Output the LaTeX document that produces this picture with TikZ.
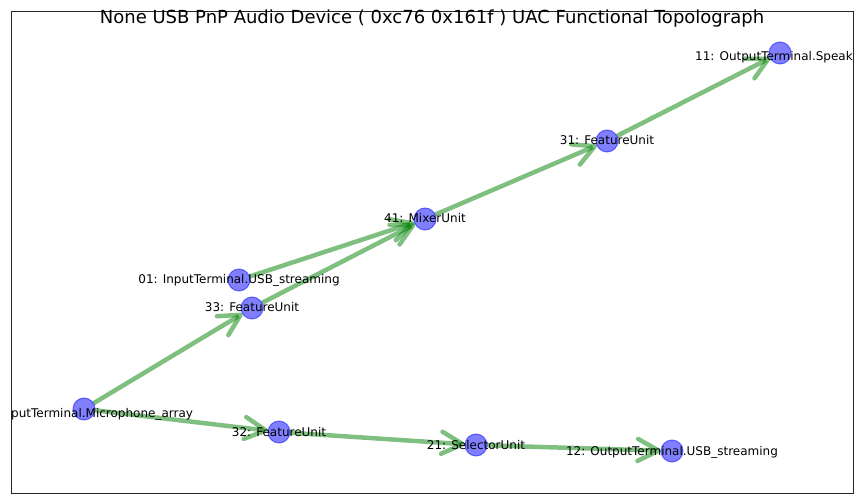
\documentclass[tikz,border=0pt]{standalone}
\usepackage{fontspec}
\setmainfont{DejaVu Sans}
\usetikzlibrary{arrows.meta,backgrounds}
\definecolor{edgegreen}{RGB}{0,128,0}
\definecolor{vertblue}{RGB}{0,0,255}
\begin{document}
\begin{tikzpicture}[x=1bp,y=-1bp,
		vert/.style={circle, minimum size=22bp, inner sep=0pt, outer sep=0pt, fill=vertblue, draw=vertblue, line width=1bp, fill opacity=0.5, draw opacity=0.5},
		lbl/.style={anchor=base, yshift=-4bp, inner sep=0pt, font=\fontsize{12bp}{14bp}\selectfont},
		edge/.style={draw=edgegreen, draw opacity=0.5, line width=4.5bp, -{Straight Barb[length=21bp, width=22bp, round]}}]
		\useasboundingbox (0,0) rectangle (864,504);
		\draw[line width=1bp, black!85] (11,12) rectangle (853,493);

		\node[vert] (n02) at (84,409) {};
		\node[vert] (n32) at (279,432) {};
		\node[vert] (n21) at (476,445) {};
		\node[vert] (n12) at (672,451) {};
		\node[vert] (n33) at (252,308) {};
		\node[vert] (n01) at (239,280) {};
		\node[vert] (n41) at (425,219) {};
		\node[vert] (n31) at (607,141) {};
		\node[vert] (n11) at (780,53) {};

		\begin{scope}[on background layer]
			\draw[edge] (n02) -- (n33);
			\draw[edge] (n02) -- (n32);
			\draw[edge] (n32) -- (n21);
			\draw[edge] (n21) -- (n12);
			\draw[edge] (n33) -- (n41);
			\draw[edge] (n01) -- (n41);
			\draw[edge] (n41) -- (n31);
			\draw[edge] (n31) -- (n11);
		\end{scope}

		\node[lbl, anchor=base west, yshift=0pt] (l02) at (11,413) {putTerminal.Microphone\_array};
		\node[lbl] (l32) at (n32) {32: FeatureUnit};
		\node[lbl] (l21) at (n21) {21: SelectorUnit};
		\node[lbl] (l12) at (n12) {12: OutputTerminal.USB\_streaming};
		\node[lbl] (l33) at (n33) {33: FeatureUnit};
		\node[lbl] (l01) at (n01) {01: InputTerminal.USB\_streaming};
		\node[lbl] (l41) at (n41) {41: MixerUnit};
		\node[lbl] (l31) at (n31) {31: FeatureUnit};
		\node[lbl, anchor=base west, yshift=0pt] (l11) at (695,57) {11: OutputTerminal.Speak};

		\node[anchor=base, inner sep=0pt, font=\fontsize{18bp}{21bp}\selectfont] (title) at (432,24) {None USB PnP Audio Device ( 0xc76 0x161f ) UAC Functional Topolograph};
	\end{tikzpicture}
\end{document}
